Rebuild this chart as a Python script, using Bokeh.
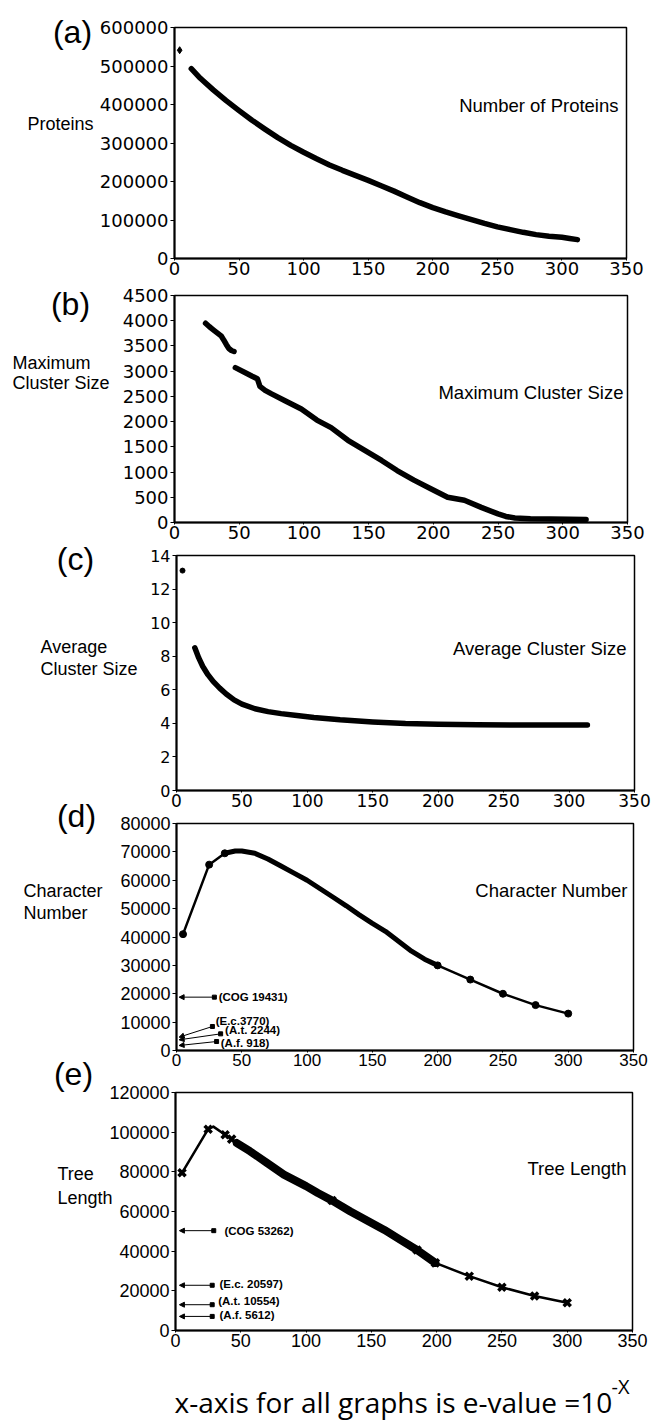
import numpy as np
from bokeh.plotting import figure
from bokeh.models import Range1d, FixedTicker, Label, Arrow, NormalHead, BasicTickFormatter
from bokeh.embed import file_html
from bokeh.resources import INLINE

# ---------------- data ----------------
x_ticks = [0, 50, 100, 150, 200, 250, 300, 350]

# (a) Number of proteins
a_ticks = [0, 100000, 200000, 300000, 400000, 500000, 600000]
a_iso_x = [4]
a_iso_y = [541000]
a_x = [13, 20, 30, 40, 50, 60, 70, 80, 90, 100, 110, 120, 130, 140, 150, 160, 170, 180,
       190, 200, 210, 220, 230, 240, 250, 260, 270, 280, 290, 300, 306, 312]
a_y = [493000, 468000, 438000, 410000, 384000, 359000, 336000, 314000, 294000, 276000,
       259000, 243000, 229000, 216000, 203000, 189000, 175000, 160000, 145000, 132000,
       121000, 111000, 101000, 91000, 82000, 75000, 68000, 62000, 58000, 55000, 52000, 49000]

# (b) Maximum cluster size (two runs with a gap)
b_ticks = [0, 500, 1000, 1500, 2000, 2500, 3000, 3500, 4000, 4500]
b1_x = [24, 27, 30, 33, 36, 38, 40, 42, 44, 46]
b1_y = [3950, 3880, 3820, 3760, 3700, 3620, 3530, 3450, 3410, 3390]
b2_x = [47, 54, 60, 64, 66, 70, 75, 85, 98, 110, 121, 134, 147, 160, 172, 185, 198,
        211, 224, 237, 250, 256, 263, 275, 290, 305, 318]
b2_y = [3070, 2980, 2900, 2850, 2700, 2620, 2550, 2420, 2250, 2030, 1880, 1630, 1430,
        1230, 1030, 840, 670, 500, 440, 300, 170, 120, 90, 75, 70, 65, 60]

# (c) Average cluster size
c_ticks = [0, 2, 4, 6, 8, 10, 12, 14]
c_iso_x = [4.6]
c_iso_y = [13.1]
c_x = [14, 17, 20, 24, 28, 33, 38, 44, 50, 60, 70, 80, 92, 105, 125, 150, 175, 200,
       230, 260, 290, 314]
c_y = [8.5, 7.9, 7.4, 6.9, 6.5, 6.1, 5.75, 5.4, 5.15, 4.87, 4.7, 4.58, 4.47, 4.35,
       4.21, 4.08, 3.99, 3.95, 3.92, 3.9, 3.9, 3.9]

# (d) Character number
d_ticks = [0, 10000, 20000, 30000, 40000, 50000, 60000, 70000, 80000]
d_x = [5, 25, 37, 45, 50, 60, 70, 80, 90, 100, 110, 120, 130, 140, 150, 160, 170, 180,
       190, 200, 225, 250, 275, 300]
d_y = [41000, 65500, 69500, 70300, 70300, 69500, 67500, 65000, 62500, 60000, 57000,
       54000, 51000, 47800, 44800, 42000, 38500, 35000, 32200, 30000, 25000, 20000,
       16000, 13000]
d_mark_x = [5, 25, 37, 200, 225, 250, 275, 300]
d_mark_y = [41000, 65500, 69500, 30000, 25000, 20000, 16000, 13000]
d_note_text = ["(COG 19431)", "(E.c.3770)", "(A.t. 2244)", "(A.f. 918)"]
d_note_tail_x = [29, 27.5, 33.8, 30.7]
d_note_tail_y = [18800, 8460, 5870, 3170]
d_note_head_x = [2, 2, 2, 2]
d_note_head_y = [18800, 4700, 3760, 1760]
d_note_text_x = [32.3, 30, 37.2, 33.9]
d_note_text_y = [18800, 10570, 7400, 2710]

# (e) Tree length
e_ticks = [0, 20000, 40000, 60000, 80000, 100000, 120000]
e_x = [5, 25, 29, 38, 43, 47, 57, 70, 83, 100, 109, 120, 134, 147, 160, 172, 185, 199,
       225, 250, 275, 300]
e_y = [79500, 101500, 102800, 98700, 96500, 94500, 90400, 84500, 78600, 72800, 69300,
       65500, 60000, 55300, 50700, 45800, 40600, 34100, 27400, 21800, 17400, 14000]
e_mark_x = [5, 25, 38, 43, 120, 185, 199, 225, 250, 275, 300]
e_mark_y = [79500, 101500, 98700, 96500, 65500, 40600, 34100, 27400, 21800, 17400, 14000]
e_note_text = ["(COG 53262)", "(E.c. 20597)", "(A.t. 10554)", "(A.f. 5612)"]
e_note_tail_x = [29.3, 28.1, 28.1, 28.1]
e_note_tail_y = [50340, 22800, 13000, 7100]
e_note_head_x = [3, 3, 3, 3]
e_note_head_y = [50340, 22800, 13000, 7100]
e_note_text_x = [37.5, 33.7, 32.7, 33.7]
e_note_text_y = [50340, 23300, 15000, 7900]

# ---------------- layout (page pixels) ----------------
W, H = 661, 1422
GEOM = {
    "a": dict(ct=0, cb=288, L=174, R=626, T=27, B=258, m=0),
    "b": dict(ct=270, cb=552, L=174, R=627, T=295, B=522, m=-18),
    "c": dict(ct=530, cb=820, L=176, R=634, T=555, B=790, m=-22),
    "d": dict(ct=793, cb=1080, L=176, R=633, T=823, B=1050, m=-27),
    "e": dict(ct=1052, cb=1422, L=175, R=632, T=1092, B=1330, m=-28),
}


def make_panel(g, ymax, yticks, yfont, yfsize, xfont, xfsize):
    p = figure(width=W, height=g["cb"] - g["ct"],
               x_range=Range1d(0, 350), y_range=Range1d(0, ymax),
               output_backend="svg", toolbar_location=None,
               min_border_left=g["L"], min_border_right=W - g["R"],
               min_border_top=g["T"] - g["ct"], min_border_bottom=g["cb"] - g["B"])
    p.margin = (g["m"], 0, 0, 0)
    p.border_fill_color = None
    p.background_fill_color = None
    p.outline_line_color = "black"
    p.outline_line_width = 1.5
    p.xgrid.visible = False
    p.ygrid.visible = False
    p.xaxis.ticker = FixedTicker(ticks=x_ticks)
    p.yaxis.ticker = FixedTicker(ticks=yticks)
    p.yaxis.formatter = BasicTickFormatter(use_scientific=False)
    for ax in (p.xaxis, p.yaxis):
        ax.axis_line_color = "black"
        ax.axis_line_width = 2
        ax.minor_tick_line_color = None
        ax.major_tick_in = 0
        ax.major_tick_line_color = "black"
        ax.major_label_text_color = "black"
    p.xaxis.major_tick_out = 2
    p.xaxis.major_label_standoff = 1
    p.yaxis.major_tick_out = 4
    p.yaxis.major_label_standoff = 2
    p.yaxis.major_label_text_font = yfont
    p.yaxis.major_label_text_font_size = yfsize
    p.xaxis.major_label_text_font = xfont
    p.xaxis.major_label_text_font_size = xfsize
    return p


def add_notes(p, texts, tx, ty, hx, hy, lx, ly):
    for i in range(len(texts)):
        p.add_layout(Arrow(end=NormalHead(size=5, fill_color="black", line_color="black"),
                           x_start=tx[i], y_start=ty[i], x_end=hx[i], y_end=hy[i],
                           line_color="black", line_width=1))
        p.add_layout(Label(x=lx[i], y=ly[i], text=texts[i], text_align="left",
                           text_baseline="middle", text_font="Liberation Sans",
                           text_font_size="11.5px", text_font_style="bold",
                           text_color="black"))
    p.scatter(tx, ty, marker="square", size=4, color="black")


# ---- (a)
pa = make_panel(GEOM["a"], 600000, a_ticks, "DejaVu Sans", "18px", "DejaVu Sans", "18px")
pa.line(a_x, a_y, line_width=5.5, color="black", line_cap="round", line_join="round")
pa.scatter(a_iso_x, a_iso_y, marker="diamond", size=7, color="black")

# ---- (b)
pb = make_panel(GEOM["b"], 4500, b_ticks, "DejaVu Sans", "18px", "DejaVu Sans", "18px")
pb.line(b1_x, b1_y, line_width=5.5, color="black", line_cap="round", line_join="round")
pb.line(b2_x, b2_y, line_width=5.5, color="black", line_cap="round", line_join="round")

# ---- (c)
pc = make_panel(GEOM["c"], 14, c_ticks, "DejaVu Sans", "16px", "DejaVu Sans", "17px")
pc.line(c_x, c_y, line_width=5.5, color="black", line_cap="round", line_join="round")
pc.scatter(c_iso_x, c_iso_y, marker="circle", size=5, color="black")

# ---- (d)
pd_ = make_panel(GEOM["d"], 80000, d_ticks, "Liberation Sans", "18px", "Liberation Sans", "17px")
dxa = np.array(d_x); dya = np.array(d_y)
dm = (dxa >= 37) & (dxa <= 200)
pd_.line(d_x, d_y, line_width=2.5, color="black", line_join="round")
pd_.line(dxa[dm], dya[dm], line_width=5, color="black", line_cap="round", line_join="round")
pd_.scatter(d_mark_x, d_mark_y, marker="circle", size=7, color="black")
add_notes(pd_, d_note_text, d_note_tail_x, d_note_tail_y, d_note_head_x, d_note_head_y,
          d_note_text_x, d_note_text_y)

# ---- (e)
pe = make_panel(GEOM["e"], 120000, e_ticks, "Liberation Sans", "18px", "Liberation Sans", "18px")
exa = np.array(e_x); eya = np.array(e_y)
em = (exa >= 47) & (exa <= 199)
pe.line(e_x, e_y, line_width=2.5, color="black", line_join="round")
pe.line(exa[em], eya[em], line_width=8, color="black", line_cap="round", line_join="round")
pe.scatter(e_mark_x, e_mark_y, marker="x", size=10, line_width=3.5, color="black")
add_notes(pe, e_note_text, e_note_tail_x, e_note_tail_y, e_note_head_x, e_note_head_y,
          e_note_text_x, e_note_text_y)

# ---- transparent overlay (page-pixel coordinates) for texts outside the frames
ov = figure(width=W, height=H, x_range=Range1d(0, W), y_range=Range1d(H, 0),
            output_backend="svg", toolbar_location=None,
            x_axis_type=None, y_axis_type=None,
            min_border_left=0, min_border_right=0, min_border_top=0, min_border_bottom=0)
ov.margin = (-H, 0, 0, 0)
ov.border_fill_color = None
ov.background_fill_color = None
ov.outline_line_color = None
ov.grid.visible = False

texts = [
    # text, x, y, align, font, size
    ("(a)", 72, 31, "center", "Liberation Sans", "32px"),
    ("Proteins", 27, 123, "left", "Liberation Sans", "18px"),
    ("Number of Proteins", 618, 105, "right", "Liberation Sans", "18.5px"),
    ("(b)", 70, 303, "center", "Liberation Sans", "32px"),
    ("Maximum", 12, 362, "left", "Liberation Sans", "18px"),
    ("Cluster Size", 12, 382, "left", "Liberation Sans", "18px"),
    ("Maximum Cluster Size", 623, 392, "right", "Liberation Sans", "18.5px"),
    ("(c)", 75, 558, "center", "Liberation Sans", "32px"),
    ("Average", 40, 646, "left", "Liberation Sans", "18px"),
    ("Cluster Size", 40, 668, "left", "Liberation Sans", "18px"),
    ("Average Cluster Size", 626, 648, "right", "Liberation Sans", "18.5px"),
    ("(d)", 76, 815, "center", "Liberation Sans", "32px"),
    ("Character", 23, 890, "left", "Liberation Sans", "18px"),
    ("Number", 23, 912, "left", "Liberation Sans", "18px"),
    ("Character Number", 627, 890, "right", "Liberation Sans", "18.5px"),
    ("(e)", 73, 1073, "center", "Liberation Sans", "32px"),
    ("Tree", 57, 1173, "left", "Liberation Sans", "18px"),
    ("Length", 57, 1197, "left", "Liberation Sans", "18px"),
    ("Tree Length", 626, 1168, "right", "Liberation Sans", "18.5px"),
    ("x-axis for all graphs is e-value =10", 174, 1401, "left", "Open Sans", "28px"),
    ("-X", 611, 1386, "left", "Open Sans", "20px"),
]
for t, x, y, al, f, s in texts:
    ov.add_layout(Label(x=x, y=y, text=t, text_align=al, text_baseline="middle",
                        text_font=f, text_font_size=s, text_color="black"))

# separate roots: no frame alignment between the panels
open("out.html", "w").write(file_html([pa, pb, pc, pd_, pe, ov], INLINE))
